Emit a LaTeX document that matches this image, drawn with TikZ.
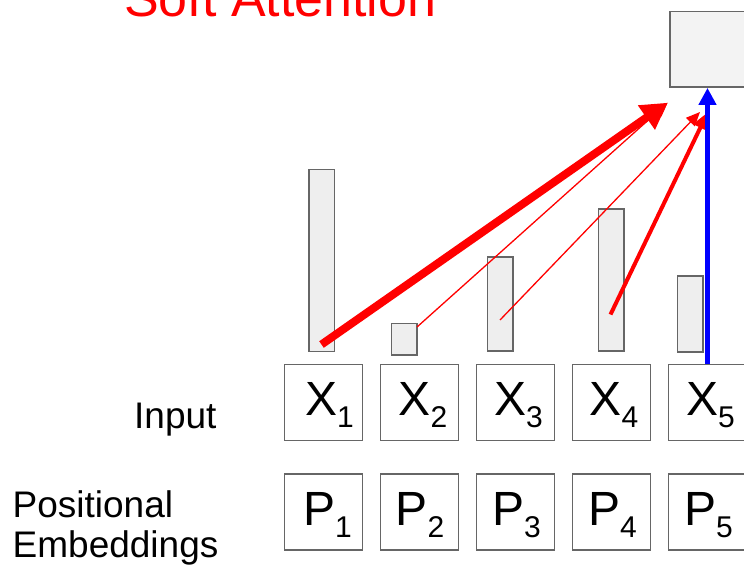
\documentclass[tikz,border=0pt]{standalone}
\usepackage{fontspec}
\setmainfont{Liberation Sans}
\usetikzlibrary{arrows.meta}
\newcommand{\subs}[1]{{\fontsize{30}{30}\selectfont\raisebox{-12.5pt}{#1}}}
\definecolor{edgegray}{HTML}{666666}
\definecolor{barfill}{HTML}{EEEEEE}
\definecolor{outfill}{HTML}{F3F3F3}
\definecolor{redarr}{HTML}{FF0000}
\definecolor{bluearr}{HTML}{0000FF}
\begin{document}
\begin{tikzpicture}[x=1pt,y=-1pt,
  tokbox/.style={draw=edgegray, line width=1.3pt, fill=white, minimum width=78pt, minimum height=76pt, inner sep=0pt},
  bar/.style={draw=edgegray, line width=1.5pt, fill=barfill, inner sep=0pt, minimum width=25.5pt, anchor=north west},
  outbox/.style={draw=edgegray, line width=1.6pt, fill=outfill, inner sep=0pt, minimum width=100pt, minimum height=75.5pt, anchor=north west},
  toklbl/.style={anchor=base west, inner sep=0pt, font=\fontsize{48}{48}\selectfont},
  sidelbl/.style={anchor=base west, inner sep=0pt, font=\fontsize{37}{40}\selectfont},
  titlelbl/.style={anchor=base west, inner sep=0pt, text=redarr, font=\fontsize{52}{52}\selectfont},
  redthick/.style={draw=redarr, line width=8pt, -{Triangle[length=26pt,width=28pt]}},
  redthin/.style={draw=redarr, line width=1.3pt, -{Triangle[length=14pt,width=12pt]}},
  redmid/.style={draw=redarr, line width=4pt, -{Triangle[length=17pt,width=15pt]}},
  bluearrow/.style={draw=bluearr, line width=5pt, -{Triangle[length=17pt,width=17pt]}}
]
\useasboundingbox (0,0) rectangle (744,568);
\clip (0,0) rectangle (744,568);

% title
\node[titlelbl] (title) at (124,16) {Soft Attention};

% output box
\node[outbox] (out) at (669,10.8) {};

% bars
\node[bar, minimum height=182pt] (b1) at (308,168.5) {};
\node[bar, minimum height=31.5pt] (b2) at (390.8,322.7) {};
\node[bar, minimum height=94pt] (b3) at (486.8,256) {};
\node[bar, minimum height=142pt] (b4) at (597.5,208) {};
\node[bar, minimum height=76pt] (b5) at (676.5,275) {};

% token boxes
\foreach \i/\cx in {1/323.5,2/419.5,3/515.5,4/611.5,5/707.5}{
  \node[tokbox] (x\i) at (\cx,402.4) {};
  \node[tokbox] (p\i) at (\cx,512) {};
}

% token labels
\node[toklbl] (lx1) at (305,415) {X\subs{1}};
\node[toklbl] (lx2) at (398.3,415) {X\subs{2}};
\node[toklbl] (lx3) at (494,415) {X\subs{3}};
\node[toklbl] (lx4) at (589.5,415) {X\subs{4}};
\node[toklbl] (lx5) at (686,415) {X\subs{5}};
\node[toklbl] (lp1) at (303,525) {P\subs{1}};
\node[toklbl] (lp2) at (395.5,525) {P\subs{2}};
\node[toklbl] (lp3) at (492,525) {P\subs{3}};
\node[toklbl] (lp4) at (588,525) {P\subs{4}};
\node[toklbl] (lp5) at (684,525) {P\subs{5}};

% side labels
\node[sidelbl] (inlbl) at (134,428.5) {Input};
\node[sidelbl] (poslbl) at (12.5,517) {Positional};
\node[sidelbl] (emblbl) at (12.5,557) {Embeddings};

% arrow end points
\coordinate (s1) at (321.5,344.5);
\coordinate (s2) at (417,327);
\coordinate (s3) at (500,320);
\coordinate (s4) at (610.5,314.5);
\coordinate (h1) at (667.7,102.7);
\coordinate (h3) at (700,112);
\coordinate (h4) at (707.7,112.3);

% arrows
\draw[redthin] (s2) -- (h1);
\draw[redthin] (s3) -- (h3);
\draw[redmid] (s4) -- (h4);
\draw[redthick] (s1) -- (h1);
\draw[bluearrow] (x5.north) -- (x5.north |- out.south);
\end{tikzpicture}
\end{document}
